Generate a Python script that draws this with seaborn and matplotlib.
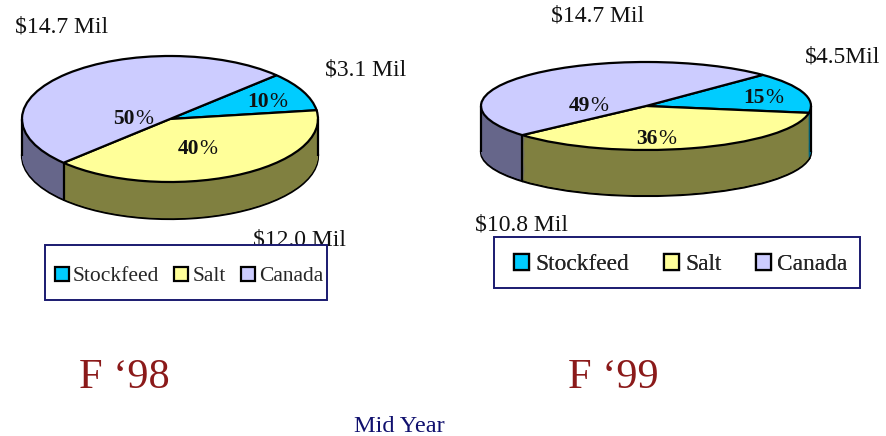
import matplotlib
matplotlib.use('Agg')
import matplotlib.pyplot as plt
from matplotlib.patches import Rectangle
import numpy as np
import seaborn as sns

categories = ['Stockfeed', 'Salt', 'Canada']
pct_98 = [10, 40, 50]
pct_99 = [15, 36, 49]
mil_98 = ['$3.1 Mil', '$12.0 Mil', '$14.7 Mil']
mil_99 = ['$4.5Mil', '$10.8 Mil', '$14.7 Mil']
title_98 = 'F \u201898'
title_99 = 'F \u201899'
footer = 'Mid Year'

top_colors = sns.color_palette(['#00CCFF', '#FFFF99', '#CCCCFF'])
side_colors = sns.color_palette(['#006680', '#808040', '#66668A'])
W, H = 887, 436

sns.set_theme(style='white')
plt.rcParams['font.family'] = ['Liberation Serif', 'DejaVu Serif']

fig = plt.figure(figsize=(W / 100, H / 100), dpi=100, facecolor='white')


def draw_pie(values, cx, cy, rx, ry, depth, start):
    # ellipse comes from stretching the axes, the rim from stacked pies
    d = depth / ry
    ax = fig.add_axes([(cx - rx - 3) / W, 1 - (cy + depth + ry + 3) / H,
                       (2 * rx + 6) / W, (2 * ry + depth + 6) / H])
    kw = dict(startangle=start, counterclock=False, normalize=True)
    ax.pie(values, colors=side_colors, center=(0, -d),
           wedgeprops=dict(edgecolor='black', linewidth=1.6, clip_on=False), **kw)
    for off in np.linspace(d, 0, 50)[1:]:
        ax.pie(values, colors=side_colors, center=(0, -off),
               wedgeprops=dict(linewidth=0, clip_on=False), **kw)
    top, _ = ax.pie(values, colors=top_colors,
                    wedgeprops=dict(edgecolor='black', linewidth=1.6, clip_on=False), **kw)
    # rim edges: both ends and the seam at the front
    angle = np.radians(start - sum(values[:2]) * 3.6)
    ax.vlines([-1, 1, np.cos(angle)], [0, 0, np.sin(angle)],
              [-d, -d, np.sin(angle) - d], color='black', linewidth=1.6)
    ax.set_aspect('auto')
    ax.set_xlim(-1 - 3 / rx, 1 + 3 / rx)
    ax.set_ylim(-1 - d - 3 / ry, 1 + 3 / ry)
    return top


wedges = draw_pie(pct_98, 170, 119, 148, 63, 37, 44)
draw_pie(pct_99, 646, 106, 165, 44, 46, 45)

over = fig.add_axes([0, 0, 1, 1])
over.set_xlim(0, W)
over.set_ylim(H, 0)
over.axis('off')
over.patch.set_alpha(0)

label_pos = [(325, 70), (253, 240), (15, 27), (805, 57), (475, 225), (551, 16)]
for txt, (x, y) in zip(mil_98 + mil_99, label_pos):
    over.text(x, y, txt, fontsize=17, color='#111111', ha='left', va='center', zorder=3)

pct_pos = [(269, 102), (199, 149), (135, 119), (765, 98), (658, 139), (590, 106)]
for val, (x, y) in zip(pct_98 + pct_99, pct_pos):
    over.text(x, y, str(val), fontsize=15.5, fontweight='bold', color='#111111',
              ha='right', va='center', zorder=6)
    over.text(x, y, '%', fontsize=15.5, color='#111111', ha='left', va='center', zorder=6)


def add_legend(x0, y0, x1, y1, size, pad, spacing, handle, dx, dy):
    over.add_patch(Rectangle((x0, y0), x1 - x0, y1 - y0, facecolor='white',
                             edgecolor='#1A1A70', linewidth=1.4, zorder=4))
    leg = over.legend(wedges, categories, ncol=3, loc='center',
                      bbox_to_anchor=((x0 + dx) / W, 1 - (y1 + dy) / H, (x1 - x0) / W, (y1 - y0) / H),
                      bbox_transform=fig.transFigure, borderaxespad=0, borderpad=0,
                      fontsize=size, frameon=False, handlelength=handle, handleheight=handle,
                      handletextpad=pad, columnspacing=spacing)
    leg.set_zorder(5)
    over.add_artist(leg)


add_legend(45, 245, 327, 300, 15.5, 0.2, 0.69, 0.65, 3, 4)
add_legend(494, 237, 860, 288, 16.8, 0.26, 1.5, 0.64, 4, 2)

over.text(124, 378, title_98, fontsize=30.5, color='#8B1A1A', ha='center', va='center')
over.text(613, 378, title_99, fontsize=30.5, color='#8B1A1A', ha='center', va='center')
over.text(399, 426, footer, fontsize=17.5, color='#10106E', ha='center', va='center')

fig.savefig('out.png', dpi=100, facecolor='white')
